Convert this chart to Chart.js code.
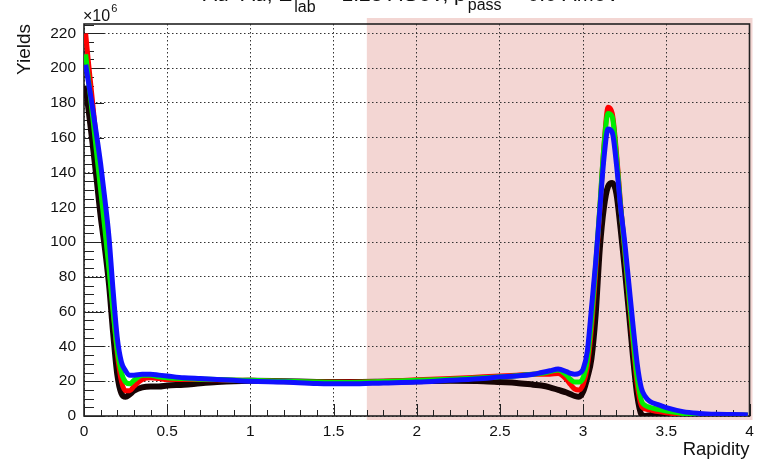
<!DOCTYPE html>
<html><head><meta charset="utf-8">
<script src="https://cdn.jsdelivr.net/npm/chart.js@4/dist/chart.umd.min.js"></script>
<style>html,body{margin:0;padding:0;background:#fff;overflow:hidden}#wrap{width:763px;height:466px}</style>
</head><body><div id="wrap"><canvas id="c" width="763" height="466"></canvas></div>
<script>
const rapidity = [0.01,0.025,0.05,0.075,0.1,0.125,0.15,0.175,0.2,0.225,0.25,0.275,0.3,0.35,0.4,0.45,0.5,0.6,0.7,0.8,0.9,1.0,1.2,1.4,1.6,1.8,2.0,2.2,2.4,2.5,2.6,2.7,2.75,2.8,2.85,2.9,2.925,2.95,2.975,3.0,3.025,3.05,3.075,3.1,3.125,3.15,3.175,3.2,3.225,3.25,3.275,3.3,3.325,3.35,3.375,3.4,3.45,3.5,3.6,3.7,3.8,3.9,3.99];
const yieldRed = [220,205,182,158,135,112,88,62,36,20,14.5,14.5,17,21,22,21.5,21,21,21,20.8,20.6,20.5,20,19.5,19.5,20,20.8,21.5,22.5,23,23.5,24,24,24,24.5,21,18,15.5,15,18,28,50,82,118,155,177.5,174,152,122,95,68,42,18,6,4,3.5,2.5,1.8,0.8,0.5,0.4,0.3,0.3];
const yieldGreen = [208,195,174,152,130,108,85,60,38,25,19.5,18.5,20.5,23.5,23.5,22.5,22,21.5,21.2,21,20.7,20.5,20,19.5,19.3,19.8,20.5,21.2,22,22.5,23.2,24,24.5,25.5,26.5,23.5,21,19.5,19.5,22,32,55,86,120,155,174,172,150,121,96,70,45,22,9,6,5,3.8,2.8,1.5,0.9,0.6,0.5,0.4];
const yieldBlue = [202,193,178,162,145,125,103,72,45,31,26,23.5,23.5,24,24,23.5,23,22,21.5,21,20.5,20,19.5,18.7,18.5,19,19.5,20.5,21.5,22.5,23,24,25,26,27,25.5,24.5,24,24.5,27,37,62,88,118,148,165,163,145,120,100,76,52,30,16,11,8.5,6.5,4.8,2.5,1.5,1,0.8,0.6];
const yieldBlack = [190,178,158,137,115,97,76,48,24,13,11,12.5,14.5,16.5,17,17,17.5,18,18.8,19.5,20,20.2,20,19.6,19.5,19.7,20,20.2,20,19.5,19,18,17.5,16.5,15,13.5,12.5,11.5,11,14,22,33,58,96,120,132,134,128,108,85,60,34,12,1,0,0.5,0.3,0.2,0.1,0.1,0.1,0.1,0.1];
const xTicks = [0,0.5,1,1.5,2,2.5,3,3.5,4];
const yTicks = [0,20,40,60,80,100,120,140,160,180,200,220];
const xMinorStep = 0.1;
const yMinorStep = 5;
const shadedFrom = 1.7;
const yUnitLabel = '×10';
const yUnitExp = '6';

const pts = arr => rapidity.map((x, i) => ({x: x, y: arr[i]}));
const FONT = '"Liberation Sans", Arial, sans-serif';

const decor = {
  id: 'decor',
  beforeDraw(chart) {
    const {ctx, chartArea: a, scales: {x}} = chart;
    ctx.save();
    ctx.fillStyle = '#f3d6d3';
    const x0 = x.getPixelForValue(shadedFrom);
    ctx.fillRect(x0, a.top - 6, a.right + 3 - x0, a.bottom + 4 - (a.top - 6));
    ctx.restore();
  },
  beforeDatasetsDraw(chart) {
    const {ctx, chartArea: a, scales: {x, y}} = chart;
    ctx.save();
    ctx.strokeStyle = '#222';
    ctx.lineWidth = 1;
    ctx.beginPath();
    const nx = Math.round((x.max - x.min) / xMinorStep);
    for (let i = 0; i <= nx; i++) {
      const v = x.min + i * xMinorStep;
      const major = xTicks.some(t => Math.abs(t - v) < 1e-6);
      const px = Math.round(x.getPixelForValue(v)) + 0.5;
      ctx.moveTo(px, a.bottom);
      ctx.lineTo(px, a.bottom - (major ? 12 : 6));
    }
    const ny = Math.floor((y.max - y.min) / yMinorStep);
    for (let i = 0; i <= ny; i++) {
      const v = y.min + i * yMinorStep;
      const major = yTicks.some(t => Math.abs(t - v) < 1e-6);
      const py = Math.round(y.getPixelForValue(v)) + 0.5;
      ctx.moveTo(a.left, py);
      ctx.lineTo(a.left + (major ? 20 : 10), py);
    }
    ctx.stroke();
    ctx.lineWidth = 1.6;
    ctx.strokeRect(a.left, a.top, a.right - a.left, a.bottom - a.top);
    ctx.restore();
  },
  afterDraw(chart) {
    const {ctx, chartArea: a} = chart;
    ctx.save();
    ctx.fillStyle = '#111';
    ctx.textBaseline = 'alphabetic';
    ctx.font = '16px ' + FONT;
    ctx.fillText(yUnitLabel, a.left - 1, a.top - 3);
    const w = ctx.measureText(yUnitLabel).width;
    ctx.font = '11px ' + FONT;
    ctx.fillText(yUnitExp, a.left - 1 + w + 1, a.top - 12);
    // clipped title
    const parts = [
      ['Au+Au, E', 21, 1], ['lab', 16, 12], [' = 1.23 AGeV, p', 21, 1], ['pass', 16, 10], [' = 0.0 AMeV', 21, 1]
    ];
    let cx = 203;
    parts.forEach(p => {
      ctx.font = p[1] + 'px ' + FONT;
      ctx.fillText(p[0], cx, p[2]);
      cx += ctx.measureText(p[0]).width + 2;
    });
    ctx.restore();
  }
};

new Chart(document.getElementById('c'), {
  type: 'line',
  data: {
    datasets: [
      {label: 'black', data: pts(yieldBlack), borderColor: '#160404', borderWidth: 6, order: 3},
      {label: 'red', data: pts(yieldRed), borderColor: '#ff0000', borderWidth: 5, order: 2},
      {label: 'green', data: pts(yieldGreen), borderColor: '#00ee00', borderWidth: 5, order: 1},
      {label: 'blue', data: pts(yieldBlue), borderColor: '#1010ff', borderWidth: 5, order: 0}
    ]
  },
  options: {
    responsive: false,
    animation: false,
    devicePixelRatio: 1,
    layout: {padding: {top: 24, right: 13.5, left: 0, bottom: 0}},
    elements: {point: {radius: 0}, line: {cubicInterpolationMode: 'monotone', fill: false}},
    plugins: {legend: {display: false}, tooltip: {enabled: false}},
    scales: {
      x: {
        type: 'linear', min: 0, max: 4,
        afterBuildTicks: s => { s.ticks = xTicks.map(v => ({value: v})); },
        afterFit: s => { s.height = 50; },
        ticks: {font: {family: FONT, size: 15.5}, color: '#111', padding: 6, maxRotation: 0, autoSkip: false, callback: v => String(v)},
        grid: {color: '#333', lineWidth: 1, drawTicks: false},
        border: {display: false, dash: [1.5, 2.5]},
        title: {display: true, text: 'Rapidity', align: 'end', color: '#111', font: {family: FONT, size: 18.5}, padding: {top: 0, bottom: 5}}
      },
      y: {
        type: 'linear', min: 0, max: 225.4,
        afterBuildTicks: s => { s.ticks = yTicks.map(v => ({value: v})); },
        afterFit: s => { s.width = 84; },
        ticks: {font: {family: FONT, size: 15.5}, color: '#111', padding: 8, autoSkip: false},
        grid: {color: '#333', lineWidth: 1, drawTicks: false},
        border: {display: false, dash: [1.5, 2.5]},
        title: {display: true, text: 'Yields', align: 'end', color: '#111', font: {family: FONT, size: 19}, padding: {top: 13, bottom: 0}}
      }
    }
  },
  plugins: [decor]
});
</script></body></html>
